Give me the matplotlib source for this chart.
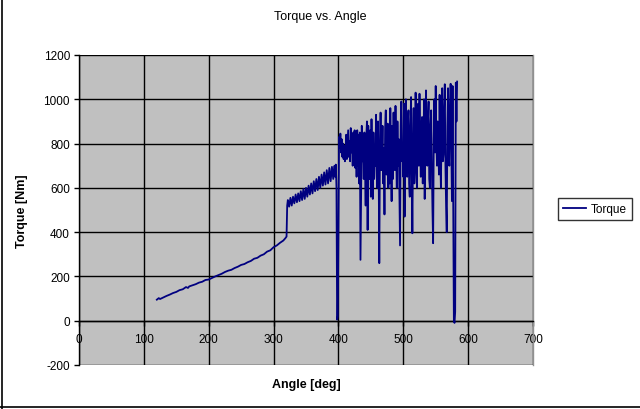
import matplotlib
matplotlib.use("Agg")
import matplotlib.pyplot as plt
from matplotlib.lines import Line2D

plt.rcParams['font.family'] = ['Liberation Sans', 'DejaVu Sans']
plt.rcParams['axes.unicode_minus'] = False

# Data
angle_ramp = [120, 123, 125, 130, 135, 140, 145, 150, 155, 160, 165, 168, 170,
              175, 180, 185, 190, 195, 200, 205, 210, 215, 220, 225, 230, 235,
              240, 245, 250, 255, 260, 265, 270, 275, 280, 285, 290, 295, 300,
              305, 310, 315, 318, 320]
torque_ramp = [95, 102, 98, 105, 112, 118, 125, 130, 138, 142, 152, 148, 155,
               160, 165, 172, 176, 184, 186, 193, 200, 206, 212, 220, 226, 230,
               238, 244, 252, 256, 264, 270, 280, 284, 294, 300, 312, 318, 332,
               340, 352, 362, 372, 380]

angle_saw = [321, 322, 324, 326, 328, 330, 332, 334, 336, 338, 340, 342, 344,
             346, 348, 350, 352, 354, 356, 358, 360, 362, 364, 366, 368, 370,
             372, 374, 376, 378, 380, 382, 384, 386, 388, 390, 392, 394, 395,
             396, 397, 398, 399]
torque_saw = [520, 545, 515, 555, 520, 560, 530, 570, 535, 575, 540, 585, 545,
              595, 550, 600, 560, 610, 570, 620, 575, 630, 585, 640, 590, 650,
              600, 660, 610, 670, 615, 680, 620, 690, 630, 695, 640, 700, 650,
              705, 600, 5, 20]

angle_osc = [401, 402, 403, 404, 405, 406, 407, 408, 409, 410, 411, 412, 413,
             414, 415, 416, 417, 418, 419, 420, 421, 422, 423, 424, 425, 426,
             427, 428, 429, 430, 431, 432, 433, 434, 435, 436, 437, 438, 439,
             440, 441, 442, 443, 444, 445, 446, 447, 448, 449, 450, 451, 452,
             453, 454, 455, 456, 457, 458, 459, 460, 461, 462, 463, 464, 465,
             466, 467, 468, 469, 470, 471, 472, 473, 474, 475, 476, 477, 478,
             479, 480, 481, 482, 483, 484, 485, 486, 487, 488, 489, 490, 491,
             492, 493, 494, 495, 496, 497, 498, 499, 500, 501, 502, 503, 504,
             505, 506, 507, 508, 509, 510, 511, 512, 513, 514, 515, 516, 517,
             518, 519, 520, 521, 522, 523, 524, 525, 526, 527, 528, 529, 530,
             531, 532, 533, 534, 535, 536, 537, 538, 539, 540, 541, 542, 543,
             544, 545, 546, 547, 548, 549, 550, 551, 552, 553, 554, 555, 556,
             557, 558, 559, 560, 561, 562, 563, 564, 565, 566, 567, 568, 569,
             570, 571, 572, 573, 574, 575, 576, 577, 578, 579, 580, 581, 582,
             583]
torque_osc = [830, 780, 845, 760, 820, 740, 800, 730, 790, 720, 770, 840, 730,
              800, 860, 740, 810, 720, 870, 760, 830, 700, 850, 740, 860, 690,
              810, 650, 860, 700, 840, 620, 850, 275, 600, 880, 720, 800, 640,
              850, 700, 520, 830, 900, 410, 880, 700, 640, 860, 560, 910, 700,
              550, 850, 640, 780, 700, 930, 650, 600, 900, 700, 260, 780, 940,
              680, 720, 880, 620, 780, 480, 870, 950, 660, 700, 890, 600, 820,
              620, 960, 720, 540, 880, 640, 940, 700, 680, 970, 760, 600, 900,
              700, 820, 560, 340, 880, 990, 720, 800, 650, 980, 470, 760, 1000,
              700, 650, 900, 950, 620, 560, 880, 1010, 700, 395, 780, 960, 620,
              700, 1030, 760, 600, 880, 980, 700, 1025, 800, 650, 880, 920, 620,
              740, 1000, 550, 820, 1040, 760, 700, 900, 990, 640, 600, 880, 950,
              700, 500, 350, 820, 1000, 760, 1060, 800, 700, 900, 800, 660, 1020,
              760, 600, 850, 1050, 720, 750, 960, 1068, 700, 520, 400, 880, 1050,
              760, 700, 960, 1070, 800, 540, 1060, 520, 0, -10, 40, 1075, 900,
              1080]

angles = angle_ramp + angle_saw + angle_osc
torques = torque_ramp + torque_saw + torque_osc

x_ticks = [0, 100, 200, 300, 400, 500, 600, 700]
y_ticks = [-200, 0, 200, 400, 600, 800, 1000, 1200]

fig = plt.figure(figsize=(6.4, 4.1), dpi=100)
ax = fig.add_axes([79/640, 1-366/410, (533-79)/640, (366-56)/410])
ax.set_facecolor('#c0c0c0')

ax.plot(angles, torques, color='#000080', lw=1.3, label='Torque', zorder=3)

ax.set_xlim(0, 700)
ax.set_ylim(-200, 1200)
ax.set_xticks(x_ticks)
ax.set_yticks(y_ticks)
ax.grid(True, color='black', lw=1.0, zorder=1)
ax.set_axisbelow(True)

ax.spines['bottom'].set_position(('data', 0))
ax.spines['bottom'].set_color('black')
ax.spines['bottom'].set_linewidth(1.0)
ax.spines['left'].set_color('black')
ax.spines['left'].set_linewidth(1.0)
ax.spines['top'].set_visible(False)
ax.spines['right'].set_color('#909090')
ax.spines['right'].set_linewidth(1.0)

ax.tick_params(axis='x', direction='out', length=3.5, width=1, pad=5, labelsize=8.5)
ax.tick_params(axis='y', direction='out', length=3.5, width=1, pad=3, labelsize=8.5)

fig.text(22/640, 1-211/410, 'Torque [Nm]', rotation=90, ha='center', va='center',
         fontsize=9, fontweight='bold')
fig.text(306/640, 1-385/410, 'Angle [deg]', ha='center', va='center',
         fontsize=9, fontweight='bold')
fig.text(320/640, 1-17/410, 'Torque vs. Angle', ha='center', va='center', fontsize=9)

leg = fig.legend(loc='center left', bbox_to_anchor=(558/640, 1-210/410),
                 fontsize=8.5, frameon=True, fancybox=False, handlelength=2.0,
                 borderpad=0.4, handletextpad=0.4, borderaxespad=0)
leg.get_frame().set_edgecolor('black')
leg.get_frame().set_linewidth(1.0)

fig.add_artist(Line2D([1.5/640, 1.5/640], [0, 1], transform=fig.transFigure,
                      color='black', lw=1.2))
fig.add_artist(Line2D([0, 1], [2/410, 2/410], transform=fig.transFigure,
                      color='black', lw=1.2))

fig.savefig('out.png', dpi=100)
